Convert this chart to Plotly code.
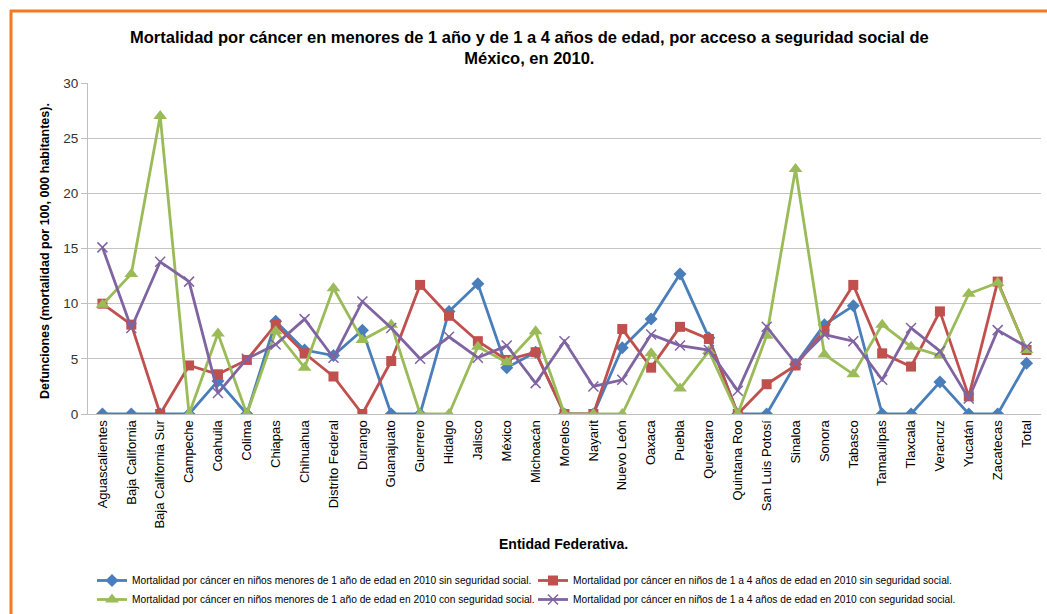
import plotly.graph_objects as go

# Entidades federativas (eje de categorías)
entidades = [
    "Aguascalientes", "Baja California", "Baja California Sur", "Campeche", "Coahuila",
    "Colima", "Chiapas", "Chihuahua", "Distrito Federal", "Durango", "Guanajuato",
    "Guerrero", "Hidalgo", "Jalisco", "México", "Michoacán", "Morelos", "Nayarit",
    "Nuevo León", "Oaxaca", "Puebla", "Querétaro", "Quintana Roo", "San Luis Potosí",
    "Sinaloa", "Sonora", "Tabasco", "Tamaulipas", "Tlaxcala", "Veracruz", "Yucatán",
    "Zacatecas", "Total",
]

# Tasas de mortalidad por 100,000 habitantes
menores1_sin_ss = [
    0, 0, 0, 0, 3.0, 0, 8.4, 5.8, 5.3, 7.6, 0, 0, 9.3, 11.8, 4.2, 5.6, 0, 0,
    6.0, 8.6, 12.7, 6.9, 0, 0, 4.5, 8.1, 9.8, 0, 0, 2.9, 0, 0, 4.6,
]
de1a4_sin_ss = [
    10.0, 8.1, 0, 4.4, 3.6, 4.9, 8.1, 5.5, 3.4, 0, 4.8, 11.7, 8.9, 6.6, 4.9, 5.6, 0, 0,
    7.7, 4.2, 7.9, 6.8, 0, 2.7, 4.4, 7.6, 11.7, 5.5, 4.3, 9.3, 1.6, 12.0, 5.8,
]
menores1_con_ss = [
    9.9, 12.7, 27.0, 0, 7.3, 0, 7.5, 4.2, 11.4, 6.7, 8.1, 0, 0, 6.1, 4.7, 7.5, 0, 0,
    0, 5.5, 2.3, 5.7, 0, 7.1, 22.2, 5.4, 3.6, 8.1, 6.1, 5.3, 10.9, 11.9, 5.8,
]
de1a4_con_ss = [
    15.1, 7.8, 13.8, 12.0, 1.9, 5.0, 6.3, 8.6, 5.1, 10.2, 7.8, 5.0, 7.0, 5.1, 6.2, 2.8, 6.6, 2.5,
    3.1, 7.2, 6.2, 5.8, 2.1, 7.9, 4.6, 7.2, 6.6, 3.1, 7.8, 5.7, 1.4, 7.6, 6.1,
]

series = [
    ("Mortalidad por cáncer en niños menores de 1 año de edad en 2010 sin seguridad social.",
     menores1_sin_ss, "#4A7EBB", dict(symbol="diamond", size=10)),
    ("Mortalidad por cáncer en niños de 1 a 4 años de edad en 2010 sin seguridad social.",
     de1a4_sin_ss, "#C0504D", dict(symbol="square", size=10)),
    ("Mortalidad por cáncer en niños menores de 1 año de edad en 2010 con seguridad social.",
     menores1_con_ss, "#9BBB59", dict(symbol="triangle-up", size=12)),
    ("Mortalidad por cáncer en niños de 1 a 4 años de edad en 2010 con seguridad social.",
     de1a4_con_ss, "#8064A2", dict(symbol="x-thin", size=10)),
]

fig = go.Figure()
for nombre, valores, color, mk in series:
    marker = dict(color=color, **mk)
    if mk["symbol"] == "x-thin":
        marker["line"] = dict(color=color, width=1.5)
    else:
        marker["line"] = dict(width=0)
    fig.add_trace(go.Scatter(
        x=entidades, y=valores, name=nombre, mode="lines+markers",
        line=dict(color=color, width=2.8), marker=marker,
    ))

W, H = 1047, 614
L, R, T, B = 88, 6, 83, 200
pw, ph = W - L - R, H - T - B


def px(xp):
    return (xp - L) / pw


def py(yp):
    return (H - B - yp) / ph


font = "Liberation Sans, Arial, sans-serif"
titulo = [
    "Mortalidad por cáncer en menores de 1 año y de 1 a 4 años de edad, por acceso a seguridad social de",
    "México, en 2010.",
]

fig.update_layout(
    width=W, height=H,
    margin=dict(l=L, r=R, t=T, b=B, autoexpand=False),
    paper_bgcolor="white", plot_bgcolor="white",
    font=dict(family=font, color="#000000", size=11),
    showlegend=True,
    legend=dict(
        orientation="h", x=px(92), xanchor="left", y=py(614), yanchor="bottom",
        font=dict(size=10.2, family=font), entrywidth=396, entrywidthmode="pixels",
        itemwidth=30, tracegroupgap=0,
    ),
    xaxis=dict(
        type="category", tickangle=-90, showgrid=False, showline=True,
        linecolor="#BFBFBF", linewidth=1, ticks="", tickfont=dict(size=13),
        range=[-0.5, len(entidades) - 0.5], automargin=False,
    ),
    yaxis=dict(
        range=[0, 30], dtick=5, showgrid=True, gridcolor="#C4C4C4", gridwidth=1,
        showline=True, linecolor="#BFBFBF", linewidth=1, ticks="outside",
        ticklen=6, tickcolor="#BFBFBF", tickfont=dict(size=13.5, color="#333333"),
        zeroline=False, automargin=False,
    ),
    annotations=[
        dict(
            text="<br>".join("<b>" + t + "</b>" for t in titulo),
            x=px(529), y=py(47), xref="paper", yref="paper", showarrow=False,
            xanchor="center", yanchor="middle", font=dict(size=16.5, family=font),
            align="center",
        ),
        dict(
            text="<b>Defunciones (mortalidad por 100, 000 habitantes).</b>",
            x=px(45), y=py(251), xref="paper", yref="paper", showarrow=False,
            textangle=-90, xanchor="center", yanchor="middle", font=dict(size=12.5, family=font),
        ),
        dict(
            text="<b>Entidad Federativa.</b>",
            x=px(563), y=py(544), xref="paper", yref="paper", showarrow=False,
            xanchor="center", yanchor="middle", font=dict(size=14, family=font),
        ),
    ],
    shapes=[
        dict(type="line", xref="paper", yref="paper", x0=px(10), x1=px(1047),
             y0=py(11), y1=py(11), line=dict(color="#F47A20", width=3)),
        dict(type="line", xref="paper", yref="paper", x0=px(11), x1=px(11),
             y0=py(10), y1=py(614), line=dict(color="#F47A20", width=3)),
    ],
)

fig.write_html("out.html")
